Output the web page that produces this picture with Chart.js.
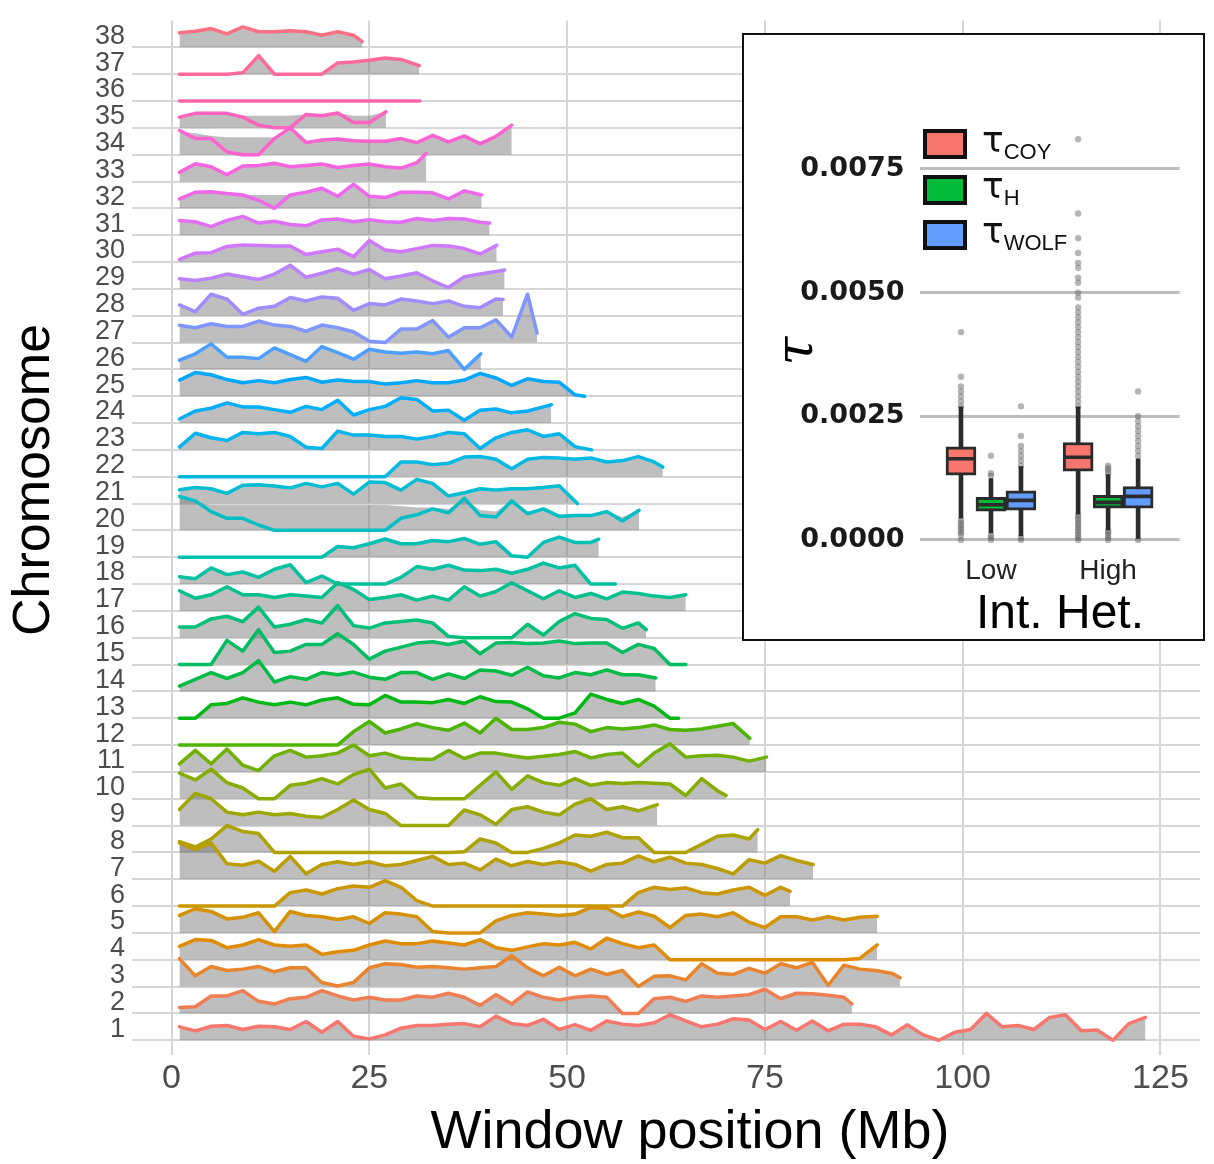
<!DOCTYPE html>
<html>
<head>
<meta charset="utf-8">
<script src="https://cdn.jsdelivr.net/npm/chart.js@4.4.1/dist/chart.umd.min.js"></script>
<style>
  html, body { margin: 0; padding: 0; background: #fff; }
  canvas { display: block; }
  #wrap { position: relative; width: 1214px; height: 1164px; }
  #inset { position: absolute; left: 742px; top: 33px; width: 463px; height: 608px;
           border: 2px solid #111; box-sizing: border-box; background: #fff; }
</style>
</head>
<body>
<div id="wrap">
  <canvas id="ridges" width="1214" height="1164"></canvas>
  <div id="inset"><canvas id="box" width="459" height="604"></canvas></div>
</div>
<script>
// ---- main panel data -------------------------------------------------------
// windows every 2 Mb starting at 1 Mb; last value sits at the chromosome end
const windowStart = 1;
const windowStep = 2;
const chromosomes = Array.from({ length: 38 }, (_, i) => i + 1);
const chromEnd = [123.1, 86, 92.1, 89.2, 89.2, 78.2, 81.1, 74.1, 61.4, 70.1,
  75.2, 73.1, 64.1, 61.2, 65, 60, 65, 56.1, 54, 59.1,
  51.3, 62.1, 53.1, 48, 52.2, 39.1, 46.2, 41.9, 42.1, 41.1,
  40.2, 39.2, 32.2, 43, 27.1, 31.4, 31.3, 24.1];
const xTicks = [0, 25, 50, 75, 100, 125];

// ridge height per window, in % of one row
const chr01 = [50,35,52,55,40,52,50,40,70,30,70,15,5,20,45,55,55,60,62,50,90,62,55,78,40,58,37,72,60,55,65,95,72,50,60,80,75,40,70,37,72,35,60,60,50,20,58,20,0,30,40,100,50,55,40,85,95,35,38,0,62,85];
const chr02 = [22,25,65,65,85,45,35,55,60,85,65,50,60,50,50,65,60,75,60,30,70,35,80,60,50,60,65,60,0,0,55,60,45,65,60,65,70,90,55,75,73,68,60,35];
const chr03 = [104,40,75,60,65,75,55,70,70,15,2,15,70,85,82,72,75,70,65,70,75,115,70,40,72,40,65,45,60,0,38,40,25,85,50,45,68,50,85,70,90,5,80,65,60,50,33];
const chr04 = [50,75,72,45,55,75,55,50,55,20,30,35,55,70,60,60,70,62,55,75,45,35,48,60,55,65,40,80,60,45,55,0,0,0,0,0,0,0,0,0,0,0,0,5,55];
const chr05 = [65,90,80,52,58,75,5,80,65,60,50,60,35,75,70,60,5,0,0,0,45,65,75,70,65,70,95,92,60,78,62,20,65,70,60,75,40,20,60,60,48,60,48,58,62];
const chr06 = [0,0,0,0,0,0,0,50,60,45,65,75,70,95,70,20,0,0,0,0,0,0,0,0,0,0,0,0,0,50,70,62,68,50,45,60,70,40,70,55];
const chr07 = [135,110,135,58,52,67,30,85,20,55,65,55,65,50,55,70,85,55,60,35,75,50,66,55,65,55,30,55,60,87,65,82,60,55,40,20,73,60,88,70,55];
const chr08 = [40,20,50,100,78,70,0,0,0,0,0,0,0,0,0,0,0,0,2,50,35,0,0,15,35,65,60,75,55,55,0,0,0,30,60,65,50,85];
const chr09 = [60,120,100,50,40,50,40,45,35,30,60,95,60,45,0,0,0,0,58,40,5,60,70,50,40,80,100,60,70,55,78];
const chr10 = [95,70,110,60,40,0,0,50,58,75,55,90,110,40,55,5,0,0,0,50,100,35,85,60,50,75,50,60,57,60,58,55,12,75,30,12];
const chr11 = [30,80,30,85,25,5,60,80,55,60,70,100,60,70,52,48,46,80,50,70,70,60,52,58,65,76,52,65,70,20,70,105,55,60,62,55,40,55];
const chr12 = [0,0,0,0,0,0,0,0,0,0,0,50,88,45,60,80,65,55,82,45,100,58,58,65,85,78,50,65,60,65,75,58,55,60,70,80,25];
const chr13 = [0,0,50,55,76,60,50,60,50,68,76,52,50,85,60,60,58,70,55,80,62,60,35,0,0,20,90,70,55,70,45,0,0];
const chr14 = [20,45,70,48,70,115,35,55,45,70,62,72,53,45,70,70,45,65,48,80,76,60,90,58,50,70,62,80,62,62,50];
const chr15 = [0,0,0,90,50,130,45,50,75,75,115,75,20,50,65,80,85,75,88,40,80,82,78,80,88,78,80,80,45,75,60,0,0];
const chr16 = [40,40,70,80,60,114,40,50,68,55,120,45,36,55,60,66,55,5,0,0,0,0,50,10,60,90,72,68,35,55,30];
const chr17 = [75,47,60,90,60,60,50,60,55,50,105,80,42,50,60,40,55,40,90,55,72,105,75,45,75,50,65,45,70,65,55,50,60];
const chr18 = [27,20,60,35,45,25,55,72,5,30,0,0,0,0,25,65,55,70,52,50,55,40,55,78,60,70,0,0,0];
const chr19 = [0,0,0,0,0,0,0,0,0,0,40,35,50,68,50,50,62,58,70,48,58,5,0,55,75,55,55,67];
const chr20 = [126,110,70,45,45,20,0,0,0,0,0,0,0,0,45,58,80,65,120,55,50,110,62,80,52,55,55,70,35,75];
const chr21 = [51,60,55,38,68,70,65,58,75,62,75,35,80,78,50,90,75,28,40,55,50,55,55,60,66,0];
const chr22 = [0,0,0,0,0,0,0,0,0,0,0,0,0,0,55,55,45,50,73,75,65,30,65,72,70,65,70,55,60,75,55,36];
const chr23 = [10,62,45,35,65,60,65,50,10,5,70,55,55,50,50,40,50,65,60,5,45,65,75,50,60,12,0];
const chr24 = [15,45,55,75,60,60,50,40,62,50,85,30,50,62,94,88,45,48,10,48,52,38,45,60,68];
const chr25 = [60,88,80,62,50,58,50,62,70,52,60,55,55,45,50,58,50,50,60,85,68,40,65,55,52,5,0];
const chr26 = [34,58,95,45,45,40,80,55,30,85,62,38,75,65,60,65,58,70,0,58];
const chr27 = [64,55,70,60,60,80,65,60,42,65,55,40,5,0,50,50,82,20,55,55,85,20,180,35];
const chr28 = [40,15,80,62,5,28,35,68,55,70,65,20,45,40,62,55,45,55,35,30,62,60];
const chr29 = [38,31,40,55,45,35,55,88,43,58,75,55,72,38,48,60,30,5,45,55,65,70];
const chr30 = [10,33,35,58,63,62,60,60,28,38,48,20,80,45,38,50,62,60,50,30,62];
const chr31 = [55,50,32,55,70,45,52,40,35,57,60,50,58,50,48,62,55,62,60,48,45];
const chr32 = [35,60,62,55,50,30,0,50,60,75,45,90,45,40,60,60,58,35,65,50];
const chr33 = [34,66,55,25,58,60,68,55,60,65,52,60,65,55,50,70,105];
const chr34 = [90,60,60,10,0,0,60,100,45,55,58,52,50,50,60,45,72,48,70,40,68,110];
const chr35 = [40,54,54,54,40,10,0,0,50,45,55,20,20,60];
const chr36 = [0,0,0,0,0,0,0,0,0,0,0,0,0,0,0,0];
const chr37 = [0,0,0,0,5,69,0,0,0,0,42,45,52,60,55,32];
const chr38 = [54,60,70,50,76,58,58,62,58,45,58,45,21];
const ridgeValues = [chr01,chr02,chr03,chr04,chr05,chr06,chr07,chr08,chr09,chr10,
  chr11,chr12,chr13,chr14,chr15,chr16,chr17,chr18,chr19,chr20,
  chr21,chr22,chr23,chr24,chr25,chr26,chr27,chr28,chr29,chr30,
  chr31,chr32,chr33,chr34,chr35,chr36,chr37,chr38];

// grey band where it does not simply sit under the line
const grey20 = [120,105,95,95,95,95,95,95,95,95,95,95,95,95,90,85,85,80,120,75,70,110,70,80,60,60,60,70,50,75];
const grey32 = [35,60,62,55,50,50,50,50,60,75,45,90,45,40,60,60,58,35,65,50];
const grey34 = [85,80,70,65,65,65,65,100,50,55,58,52,50,50,60,50,72,50,70,50,68,110];
const grey35 = [40,54,54,54,45,45,45,45,50,45,55,45,45,60];
const greyValues = { 20: grey20, 32: grey32, 34: grey34, 35: grey35 };

// ---- inset data -------------------------------------------------------------
const groups = ["Low", "High"];
const types = ["COY", "H", "WOLF"];
const boxQ1 = [[0.00131, 0.00139], [0.00058, 0.00064], [0.00060, 0.00064]];
const boxMedian = [[0.00164, 0.00167], [0.00071, 0.00076], [0.00080, 0.00088]];
const boxQ3 = [[0.00188, 0.00197], [0.00086, 0.00090], [0.00099, 0.00108]];
const whiskerLo = [[0.00044, 0.00052], [0.00014, 0.00020], [0.00008, 0.00000]];
const whiskerHi = [[0.00269, 0.00269], [0.00124, 0.00132], [0.00148, 0.00164]];
const outCoyLow = [0.0027,0.0028,0.0029,0.0030,0.0031,0.0033,0.0042,0.0004,0.00035,0.0003,0.00025,0.0002,0.00015,0.0001,0.0];
const outCoyHigh = [0.0027,0.0028,0.0029,0.0030,0.0031,0.0032,0.0033,0.0034,0.0035,0.0036,0.0037,0.0038,0.0039,0.0040,0.0041,0.0042,0.0043,0.0044,0.0045,0.0046,0.0047,0.0049,0.0050,0.0052,0.0053,0.0055,0.0056,0.0058,0.0061,0.0066,0.0081,0.0005,0.00045,0.0004,0.00035,0.0003,0.00025,0.0002,0.00015,0.0001,0.00005,0.0];
const outHLow = [0.0013,0.00135,0.0017,0.0001,0.00005,0.0];
const outHHigh = [0.00135,0.0014,0.00145,0.0015,0.00018,0.00015,0.0001,0.00005,0.0];
const outWolfLow = [0.0015,0.0016,0.0017,0.0018,0.0019,0.0021,0.0027,0.00005,0.0];
const outWolfHigh = [0.0017,0.0018,0.0019,0.0020,0.0021,0.0022,0.0023,0.0024,0.0025,0.0030,0.0];
const outliers = [[outCoyLow, outCoyHigh], [outHLow, outHHigh], [outWolfLow, outWolfHigh]];
const yTicksInset = [0, 0.0025, 0.005, 0.0075];

// ---- styling helpers ------------------------------------------------------
Chart.defaults.font.family = '"Liberation Sans", Arial, sans-serif';
const GREY = "rgba(125,125,125,0.5)";
const GRID = "#d6d6d6";

// ggplot-like hue palette (polar Luv, c=100, l=65)
function hcl(h, c, l) {
  c = c || 100; l = l || 65;
  const hr = h * Math.PI / 180;
  const u = c * Math.cos(hr), v = c * Math.sin(hr);
  const Y = Math.pow((l + 16) / 116, 3);
  const up = u / (13 * l) + 0.1978398, vp = v / (13 * l) + 0.4683363;
  const X = Y * 9 * up / (4 * vp);
  const Z = Y * (12 - 3 * up - 20 * vp) / (4 * vp);
  const lin = [3.2404542 * X - 1.5371385 * Y - 0.4985314 * Z,
    -0.9692660 * X + 1.8760108 * Y + 0.0415560 * Z,
    0.0556434 * X - 0.2040259 * Y + 1.0572252 * Z];
  return "rgb(" + lin.map(function (x) {
    x = Math.max(0, Math.min(1, x));
    const g = x <= 0.0031308 ? 12.92 * x : 1.055 * Math.pow(x, 1 / 2.4) - 0.055;
    return Math.round(g * 255);
  }).join(",") + ")";
}

function ridgePoints(chr, vals) {
  const end = chromEnd[chr - 1];
  return vals.map(function (v, i) {
    const x = i === vals.length - 1 ? end : Math.min(windowStart + windowStep * i, end);
    return { x: x, y: chr + v / 100 };
  });
}

// ---- main ridge chart -----------------------------------------------------
const ridgeSets = [];
chromosomes.forEach(function (chr, k) {
  const grey = greyValues[chr];
  ridgeSets.push({
    data: ridgePoints(chr, ridgeValues[k]),
    borderColor: hcl(15 + 360 * k / chromosomes.length),
    borderWidth: 3.5,
    borderJoinStyle: "round",
    borderCapStyle: "round",
    pointRadius: 0,
    tension: 0,
    fill: grey ? false : { value: chr },
    backgroundColor: GREY,
  });
  if (grey) {
    ridgeSets.push({
      data: ridgePoints(chr, grey),
      borderColor: "transparent",
      borderWidth: 0,
      pointRadius: 0,
      tension: 0,
      fill: { value: chr },
      backgroundColor: GREY,
    });
  }
});

const mainTitles = {
  id: "mainTitles",
  afterDraw(chart) {
    const ctx = chart.ctx;
    ctx.save();
    ctx.fillStyle = "#000";
    ctx.textAlign = "center";
    ctx.textBaseline = "middle";
    ctx.font = '54px "Liberation Sans", Arial, sans-serif';
    ctx.fillText("Window position (Mb)", 690, 1133);
    ctx.translate(35, 480);
    ctx.rotate(-Math.PI / 2);
    ctx.font = '52px "Liberation Sans", Arial, sans-serif';
    ctx.fillText("Chromosome", 0, 0);
    ctx.restore();
  }
};

new Chart(document.getElementById("ridges"), {
  type: "line",
  data: { datasets: ridgeSets },
  options: {
    responsive: false,
    animation: false,
    layout: { padding: { top: 6, right: 14, left: 0, bottom: 0 } },
    plugins: { legend: { display: false }, tooltip: { enabled: false } },
    scales: {
      x: {
        type: "linear", min: -5, max: 130,
        afterBuildTicks: function (s) { s.ticks = xTicks.map(function (v) { return { value: v }; }); },
        afterFit: function (s) { s.height = 109; },
        grid: { color: GRID, lineWidth: 2, drawTicks: false },
        border: { display: false },
        ticks: { color: "#4d4d4d", font: { size: 34 }, padding: 3 },
      },
      y: {
        type: "linear", min: 0.45, max: 39,
        afterBuildTicks: function (s) { s.ticks = chromosomes.map(function (v) { return { value: v }; }); },
        afterFit: function (s) { s.width = 132; },
        grid: { color: GRID, lineWidth: 2, drawTicks: false },
        border: { display: false },
        ticks: {
          color: "#4d4d4d", font: { size: 27, lineHeight: 1 }, padding: 7, labelOffset: -11,
          autoSkip: false,
        },
      },
    },
  },
  plugins: [mainTitles],
});

// ---- inset boxplot --------------------------------------------------------
const groupPos = [1, 2];
const dodge = [-0.256, 0, 0.256];
const boxFill = ["#F8766D", "#00BA38", "#619CFF"];
const INK = "#2b2b2b";
const medianHalf = 0.00003;

const insetSets = [];
types.forEach(function (name, t) {
  const at = function (gi) { return groupPos[gi] + dodge[t]; };
  const pts = [];
  outliers[t].forEach(function (list, gi) {
    list.forEach(function (v) { pts.push({ x: at(gi), y: v }); });
  });
  insetSets.push({
    type: "scatter", data: pts, order: 4,
    pointRadius: 3.2, pointBackgroundColor: "rgba(90,90,90,0.45)", pointBorderWidth: 0,
  });
  insetSets.push({
    type: "bar", order: 3, grouped: false, barThickness: 4,
    data: groupPos.map(function (g, gi) { return { x: at(gi), y: [whiskerLo[t][gi], whiskerHi[t][gi]] }; }),
    backgroundColor: INK,
  });
  insetSets.push({
    type: "bar", order: 1, grouped: false, barThickness: 30,
    data: groupPos.map(function (g, gi) { return { x: at(gi), y: [boxQ1[t][gi], boxQ3[t][gi]] }; }),
    backgroundColor: boxFill[t], borderColor: INK, borderWidth: 3, borderSkipped: false,
  });
  insetSets.push({
    type: "bar", order: 0, grouped: false, barThickness: 28,
    data: groupPos.map(function (g, gi) {
      const m = boxMedian[t][gi];
      return { x: at(gi), y: [m - medianHalf, m + medianHalf] };
    }),
    backgroundColor: INK,
  });
});

const insetDecor = {
  id: "insetDecor",
  afterDraw(chart) {
    const ctx = chart.ctx;
    ctx.save();
    // legend
    const keyY = [109, 155, 200];
    types.forEach(function (name, t) {
      const cy = keyY[t];
      ctx.fillStyle = boxFill[t];
      ctx.fillRect(181, cy - 13, 40, 26);
      ctx.lineWidth = 4;
      ctx.strokeStyle = "#111";
      ctx.strokeRect(181, cy - 13, 40, 26);
      ctx.fillStyle = "#111";
      ctx.textAlign = "left";
      ctx.textBaseline = "alphabetic";
      ctx.font = '36px "DejaVu Sans", sans-serif';
      ctx.fillText("\u03C4", 238, cy + 8);
      const w = ctx.measureText("\u03C4").width;
      ctx.font = '22px "Liberation Sans", Arial, sans-serif';
      ctx.fillText(name, 238 + w, cy + 15);
    });
    // axis titles
    ctx.textAlign = "center";
    ctx.textBaseline = "middle";
    ctx.fillStyle = "#000";
    ctx.font = '48px "Liberation Sans", Arial, sans-serif';
    ctx.fillText("Int. Het.", 316, 580);
    ctx.translate(54, 316);
    ctx.rotate(-Math.PI / 2);
    ctx.font = 'italic 52px "DejaVu Serif", serif';
    ctx.fillText("\u03C4", 0, 0);
    ctx.restore();
  }
};

new Chart(document.getElementById("box"), {
  type: "bar",
  data: { datasets: insetSets },
  options: {
    responsive: false,
    animation: false,
    layout: { padding: { top: 79.5, right: 23.4, left: 0, bottom: 0 } },
    plugins: { legend: { display: false }, tooltip: { enabled: false } },
    scales: {
      x: {
        type: "linear", min: 0.39, max: 2.61, offset: false,
        afterBuildTicks: function (s) { s.ticks = groupPos.map(function (v) { return { value: v }; }); },
        afterFit: function (s) { s.height = 89.2; },
        grid: { display: false, drawTicks: false },
        border: { display: false },
        ticks: {
          color: "#222", font: { size: 28 }, padding: 5,
          callback: function (v, i) { return groups[i]; },
        },
      },
      y: {
        type: "linear", min: -0.0002, max: 0.0086, stacked: false,
        afterBuildTicks: function (s) { s.ticks = yTicksInset.map(function (v) { return { value: v }; }); },
        afterFit: function (s) { s.width = 175.5; },
        grid: { color: "#bdbdbd", lineWidth: 3, drawTicks: false },
        border: { display: false },
        ticks: {
          color: "#1a1a1a", padding: 15,
          font: { family: '"DejaVu Sans", sans-serif', size: 27, weight: "bold" },
          callback: function (v) { return v.toFixed(4); },
        },
      },
    },
  },
  plugins: [insetDecor],
});
</script>
</body>
</html>
